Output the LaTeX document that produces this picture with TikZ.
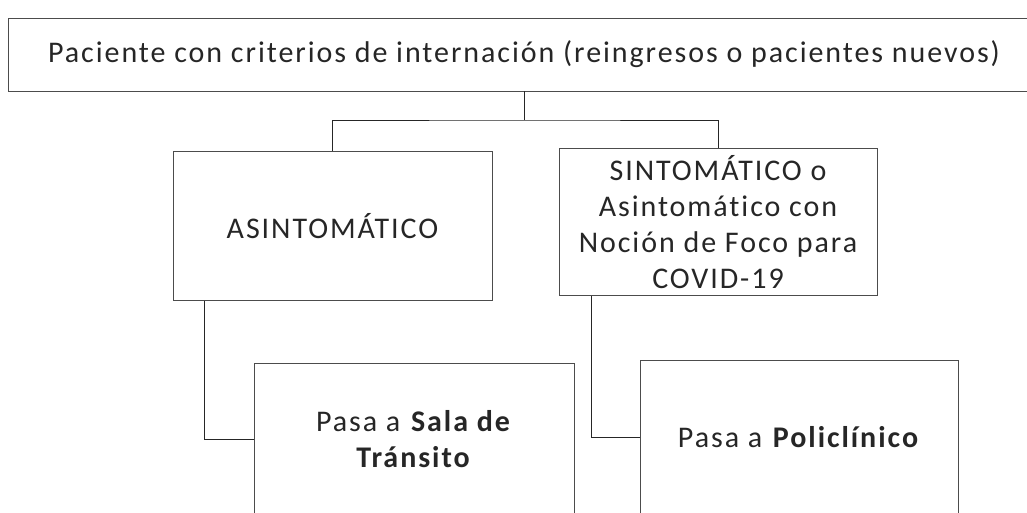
\documentclass[tikz,border=0pt]{standalone}
\usepackage{fontspec}
\setmainfont{Carlito}[LetterSpace=6.5, Ligatures=NoCommon]

\begin{document}
\begin{tikzpicture}[x=1pt, y=-1pt,
    box/.style={draw=black!70, line width=0.7pt, inner sep=0pt, text=black!85, align=center, font=\fontsize{30}{36}\selectfont},
    link/.style={draw=black!85, line width=0.9pt}]
    \useasboundingbox (0,0) rectangle (1027,513);

    \node[box, minimum width=1032pt, minimum height=73pt] (paciente) at (524,54.5) {Paciente con criterios de internación (reingresos o pacientes nuevos)};
    \node[box, minimum width=319pt, minimum height=149pt] (asinto) at (332.5,226) {ASINTOMÁTICO};
    \node[box, minimum width=318pt, minimum height=147pt] (sinto) at (718,222) {SINTOMÁTICO o\\Asintomático con\\Noción de Foco para\\COVID-19};
    \node[box, minimum width=320pt, minimum height=152pt] (sala) at (414,439) {Pasa a \textbf{Sala de}\\\textbf{Tránsito}};
    \node[box, minimum width=318pt, minimum height=155pt] (poli) at (799,437.5) {Pasa a \textbf{Policlínico}};

    \coordinate (split) at (524,120);
    \draw[link] (paciente) -- (split);
    \draw[link] (asinto.north) |- (split) -| (sinto.north);
    \draw[link] ([xshift=32pt]asinto.south west) |- (sala.west);
    \draw[link] ([xshift=33pt]sinto.south west) |- (poli.west);
\end{tikzpicture}
\end{document}
